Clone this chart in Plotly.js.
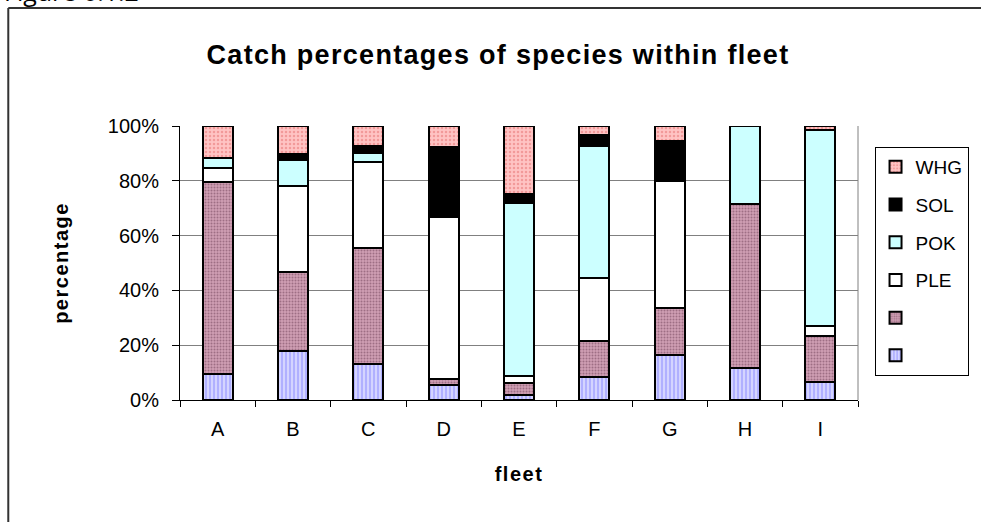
<!DOCTYPE html>
<html>
<head>
<meta charset="utf-8">
<script src="https://cdn.plot.ly/plotly-3.0.1.min.js"></script>
<style>
html, body { margin: 0; padding: 0; background: #fff; }
#chart { width: 981px; height: 522px; }
.gtitle { letter-spacing: 1.3px; }
.xtitle, .ytitle { letter-spacing: 1.5px; }
</style>
</head>
<body>
<div id="chart"></div>
<script>
// Fleet categories
const fleets = ["A", "B", "C", "D", "E", "F", "G", "H", "I"];

// Species names (legend labels); first two are blank in the original
const speciesNames = [" ", " ", "PLE", "POK", "SOL", "WHG"];

// Catch percentages per species within each fleet (bottom to top)
const seriesBlue  = [9.5, 18.0, 13.2, 5.5, 1.8, 8.5, 16.6, 11.6, 6.5];
const seriesMauve = [70.0, 28.6, 42.2, 2.2, 4.4, 13.2, 16.9, 59.8, 16.8];
const seriesPLE   = [5.3, 31.5, 31.4, 59.0, 2.4, 22.8, 46.5, 0, 3.6];
const seriesPOK   = [3.5, 9.4, 3.5, 0, 63.4, 48.1, 0, 28.6, 71.5];
const seriesSOL   = [0, 2.4, 2.4, 25.5, 3.3, 4.0, 14.4, 0, 0];
const seriesWHG   = [11.7, 10.1, 7.3, 7.8, 24.7, 3.4, 5.6, 0, 1.6];

// y-axis ticks
const yTickVals = [0, 20, 40, 60, 80, 100];
const yTickText = ["0%", "20%", "40%", "60%", "80%", "100%"];

const allSeries = [seriesBlue, seriesMauve, seriesPLE, seriesPOK, seriesSOL, seriesWHG];

const styles = [
  {color: "#CCCCFF", pattern: {shape: "|", bgcolor: "#D4D4FF", fgcolor: "#8C8CFF", size: 4, solidity: 0.25}},
  {color: "#C898AC", pattern: {shape: ".", bgcolor: "#D09FB4", fgcolor: "#9E6E84", size: 3, solidity: 0.35}},
  {color: "#FFFFFF"},
  {color: "#CCFFFF"},
  {color: "#000000"},
  {color: "#FFC0C0", pattern: {shape: ".", bgcolor: "#FFC4C4", fgcolor: "#F29A9A", size: 4, solidity: 0.3}}
];

const traces = allSeries.map((vals, i) => {
  const m = {color: styles[i].color, line: {color: "#000000", width: 2}};
  if (styles[i].pattern) m.pattern = styles[i].pattern;
  return {
    type: "bar",
    x: fleets,
    y: vals,
    name: speciesNames[i],
    legendgroup: "g" + i,
    legendrank: 100 - i,
    marker: m,
    hoverinfo: "skip"
  };
});

// pixel helpers for layout shapes (plot area: x 180..867, y 126..400)
const L = 180, R = 114, T = 126, B = 122;
const W = 981 - L - R, H = 522 - T - B;
const px = x => (x - L) / W;
const py = y => (522 - B - y) / H;

const font = "Liberation Sans, Arial, sans-serif";

const layout = {
  width: 981,
  height: 522,
  margin: {l: L, r: R, t: T, b: B, pad: 0},
  paper_bgcolor: "#FFFFFF",
  plot_bgcolor: "#FFFFFF",
  barmode: "stack",
  bargap: 0.6,
  font: {family: font, color: "#000000", size: 20},
  title: {
    text: "<b>Catch percentages of species within fleet</b>",
    font: {family: font, size: 27, color: "#000000"},
    x: 498 / 981, xref: "container", xanchor: "center",
    y: 1 - 55 / 522, yref: "container", yanchor: "middle"
  },
  xaxis: {
    type: "category",
    showline: true, linecolor: "#000000", linewidth: 1,
    ticks: "outside", tickson: "boundaries", ticklen: 6, tickcolor: "#000000", tickwidth: 1,
    ticklabelstandoff: 11,
    showgrid: false, zeroline: false,
    tickfont: {family: font, size: 20},
    title: {text: "<b>fleet</b>", font: {family: font, size: 20}, standoff: 27}
  },
  yaxis: {
    range: [0, 100],
    tickmode: "array",
    tickvals: yTickVals,
    ticktext: yTickText,
    showline: true, linecolor: "#000000", linewidth: 1,
    ticks: "outside", ticklen: 7, tickcolor: "#000000", tickwidth: 1,
    ticklabelstandoff: 9,
    showgrid: true, gridcolor: "#808080", gridwidth: 1,
    zeroline: false,
    tickfont: {family: font, size: 20},
    title: {text: "<b>percentage</b>", font: {family: font, size: 20}, standoff: 33}
  },
  legend: {
    x: px(979), xanchor: "right",
    y: py(147), yanchor: "top",
    bgcolor: "#FFFFFF",
    bordercolor: "#000000", borderwidth: 1,
    font: {family: font, size: 19, color: "#000000"},
    traceorder: "grouped",
    tracegroupgap: 10,
    itemwidth: 30
  },
  shapes: [
    // plot-area right border (gray)
    {type: "line", xref: "paper", yref: "paper", x0: 1, x1: 1, y0: 0, y1: 1, line: {color: "#808080", width: 1}},
    // outer frame (top and left)
    {type: "line", xref: "paper", yref: "paper", x0: px(6), x1: px(1000), y0: py(8), y1: py(8), line: {color: "#333333", width: 2}},
    {type: "line", xref: "paper", yref: "paper", x0: px(6), x1: px(6), y0: py(8), y1: py(540), line: {color: "#333333", width: 2}}
  ],
  annotations: [
    {text: "Figure 6.1.2", xref: "paper", yref: "paper", x: px(0), xanchor: "left",
     y: py(10), yanchor: "bottom", showarrow: false,
     font: {family: "Open Sans, Noto Sans, sans-serif", size: 25, color: "#000000"}}
  ],
  showlegend: true,
  hovermode: false
};

Plotly.newPlot("chart", traces, layout, {staticPlot: true, displayModeBar: false});
</script>
</body>
</html>
